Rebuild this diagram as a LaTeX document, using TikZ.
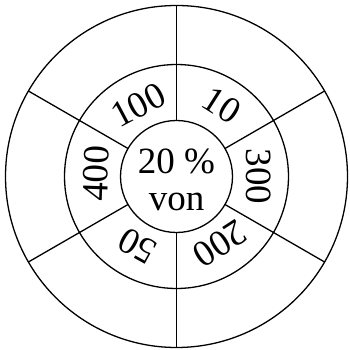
\documentclass[tikz,border=0pt]{standalone}
\usepackage{fontspec}
\setmainfont{Liberation Serif}
\begin{document}
\begin{tikzpicture}[
    x=1pt, y=1pt,
    ring/.style={circle, draw=black, line width=1.3pt, inner sep=0pt, outer sep=0pt},
    numlabel/.style={font=\fontsize{37pt}{37pt}\selectfont, inner sep=0pt},
    spoke/.style={line width=1.3pt, draw=black}
]
    \useasboundingbox (-176.5,-173.5) rectangle (172.5,176.5);
    \node[ring, minimum size=342pt] (outer) at (0,0) {};
    \node[ring, minimum size=224pt] (middle) at (0,0) {};
    \node[ring, minimum size=112pt] (inner) at (0,0) {};
    \node[numlabel, align=center] (center) at (0,-3) {20 \%\\von};
    \foreach \ang in {30,90,...,330}
        \draw[spoke] (inner.\ang) -- (outer.\ang);
    \foreach \ang/\rad/\val in {57.5/84/10, 0/82.5/300, -57/80/200, -119/80/50, 178/80.5/400, 118/81/100}
        \node[numlabel, rotate=\ang-90] (n\val) at (\ang:\rad) {\val};
\end{tikzpicture}
\end{document}
